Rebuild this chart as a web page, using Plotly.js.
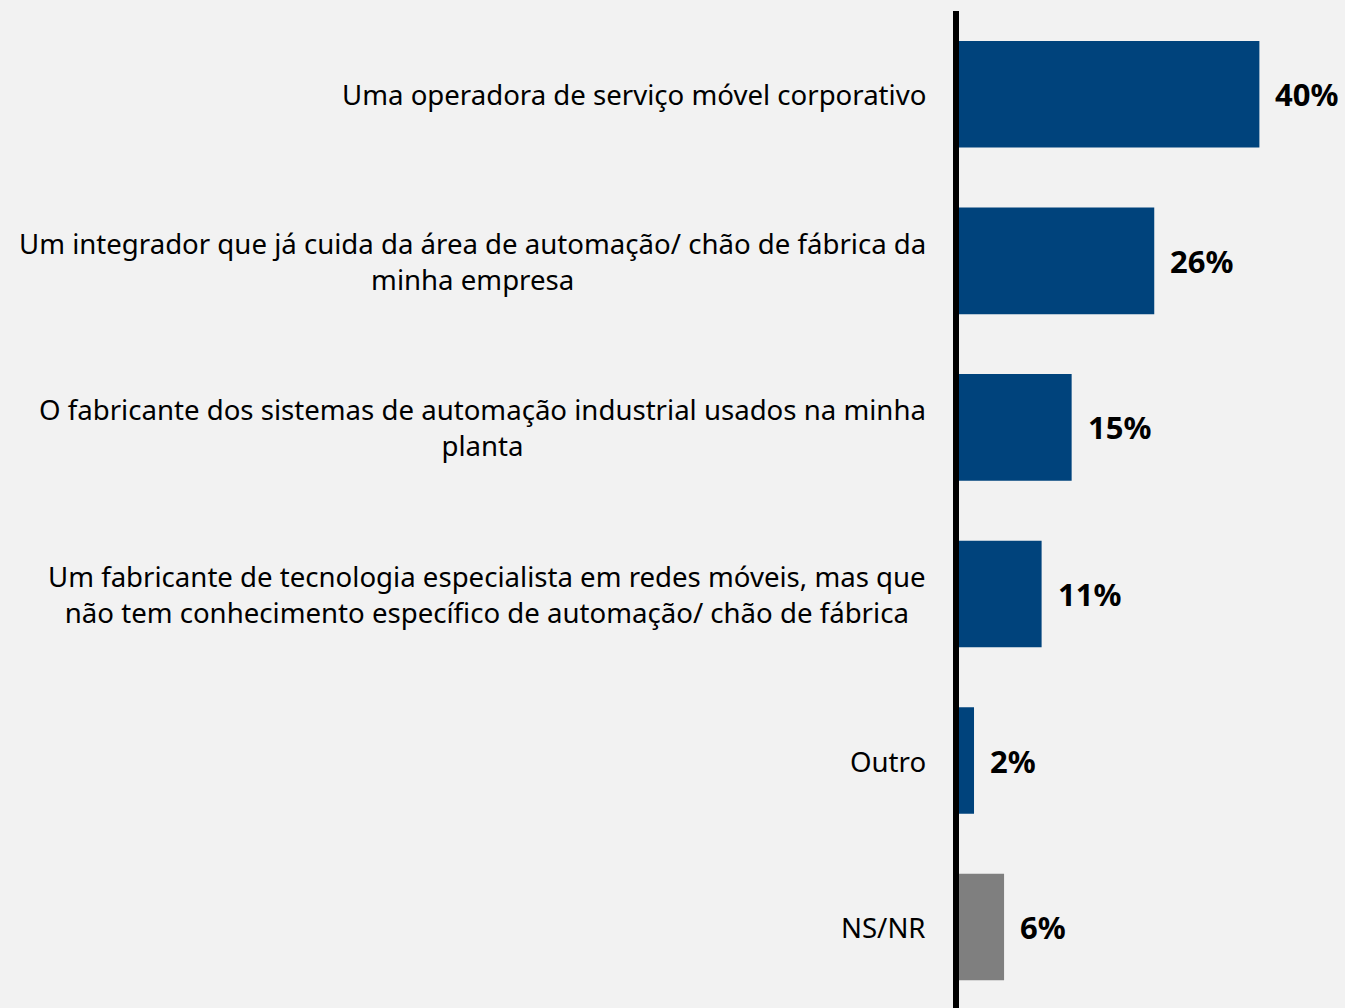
<!DOCTYPE html>
<html>
<head>
<meta charset="utf-8">
<script src="https://cdn.plot.ly/plotly-3.0.1.min.js"></script>
<style>
  html, body { margin: 0; padding: 0; background: #f2f2f2; }
  #chart { width: 1345px; height: 1008px; }
</style>
</head>
<body>
<div id="chart"></div>
<script>
const categories = [
  "Uma operadora de serviço móvel corporativo",
  "Um integrador que já cuida da área de automação/ chão de fábrica da<br>minha empresa",
  "O fabricante dos sistemas de automação industrial usados na minha<br>planta",
  "Um fabricante de tecnologia especialista em redes móveis, mas que<br>não tem conhecimento específico de automação/ chão de fábrica",
  "Outro",
  "NS/NR"
];
const values = [40, 26, 15, 11, 2, 6];
const valueLabels = ["40%", "26%", "15%", "11%", "2%", "6%"];
const barColors = ["#00437c", "#00437c", "#00437c", "#00437c", "#00437c", "#7f7f7f"];

const FONT = "'Noto Sans', 'Open Sans', sans-serif";
const idx = categories.map((_, i) => i);

const trace = {
  type: "bar",
  orientation: "h",
  x: values,
  y: idx,
  width: 0.64,
  marker: { color: barColors, line: { width: 0 } },
  hoverinfo: "skip"
};

const annotations = [];
categories.forEach((c, i) => {
  annotations.push({
    xref: "paper", yref: "y",
    x: 0, y: i,
    xanchor: "right", yanchor: "middle",
    xshift: -31,
    align: "center",
    text: c,
    showarrow: false,
    font: { family: FONT, size: 27.6, color: "#000000" }
  });
  annotations.push({
    xref: "x", yref: "y",
    x: values[i], y: i,
    xanchor: "left", yanchor: "middle",
    xshift: 14,
    text: "<b>" + valueLabels[i] + "</b>",
    showarrow: false,
    font: { family: FONT, size: 31, color: "#000000" }
  });
});

const layout = {
  width: 1345,
  height: 1008,
  paper_bgcolor: "#f2f2f2",
  plot_bgcolor: "#f2f2f2",
  margin: { l: 959, r: 0, t: 11, b: 0, pad: 0 },
  showlegend: false,
  xaxis: {
    range: [0, 51.4],
    showgrid: false, zeroline: false, showline: false,
    showticklabels: false, ticks: "", fixedrange: true
  },
  yaxis: {
    type: "linear",
    range: [5.486, -0.5],
    showgrid: false, zeroline: false,
    showline: true, linecolor: "#000000", linewidth: 6,
    showticklabels: false, ticks: "", fixedrange: true
  },
  annotations: annotations
};

Plotly.newPlot("chart", [trace], layout, { displayModeBar: false, staticPlot: true });
</script>
</body>
</html>
